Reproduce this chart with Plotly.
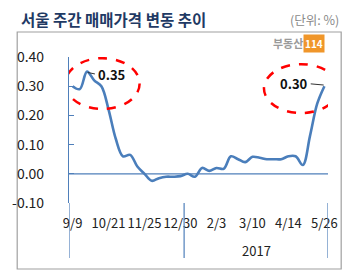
import plotly.graph_objects as go

values = [0.30, 0.29, 0.35, 0.32, 0.30, 0.22, 0.12, 0.06, 0.065, 0.025,
          0.00, -0.024, -0.015, -0.01, -0.01, -0.008, 0.00, -0.01, 0.02, 0.01,
          0.02, 0.017, 0.06, 0.05, 0.04, 0.058, 0.055, 0.05, 0.05, 0.05,
          0.06, 0.06, 0.03, 0.13, 0.24, 0.30]
tick_idx = [0, 5, 10, 15, 20, 25, 30, 35]
tick_labels = ["9/9", "10/21", "11/25", "12/30", "2/3", "3/10", "4/14", "5/26"]
y_ticks = [-0.10, 0.00, 0.10, 0.20, 0.30, 0.40]
year_label = "2017"
year_start = 16
peak_idx, last_idx = 2, 35

x = list(range(len(values)))
AX = "#4f7fba"
FONT = "Noto Sans CJK KR"

# plot area in pixels
L, R, T, B = 58, 333, 57, 203
PW, PH = R - L, B - T


def pxx(px):
    return (px - L) / PW


def pxy(py):
    return (B - py) / PH


fig = go.Figure()
fig.add_trace(go.Scatter(x=x, y=values, mode="lines",
                         line=dict(color="#4a7ebb", width=2.6, shape="spline", smoothing=1.0),
                         hoverinfo="skip", showlegend=False))

fig.update_layout(
    width=350, height=274,
    margin=dict(l=L, r=350 - R, t=T, b=274 - B),
    paper_bgcolor="white", plot_bgcolor="white",
    font=dict(family=FONT, size=13, color="#222"),
    xaxis=dict(range=[-0.5, len(values) - 0.5], showgrid=False, zeroline=False,
               showline=False, tickvals=tick_idx, ticktext=tick_labels, ticks="",
               ticklabelstandoff=11, tickfont=dict(size=13, color="#222")),
    yaxis=dict(range=[-0.1, 0.4], showgrid=False, zeroline=False, showline=True,
               linecolor=AX, linewidth=1.2, ticks="inside", ticklen=5, tickcolor=AX,
               tickvals=y_ticks, ticktext=[f"{v:.2f}" for v in y_ticks],
               tickfont=dict(size=14, color="#222"), ticklabelstandoff=21),
)

shapes = []
shapes.append(dict(type="rect", xref="paper", yref="paper",
                   x0=pxx(3), x1=pxx(347), y0=pxy(269), y1=pxy(32),
                   line=dict(color="#a0a0a0", width=1.2), layer="below"))
shapes.append(dict(type="line", xref="x", yref="y", x0=-0.5, x1=len(values) - 0.5,
                   y0=0, y1=0, line=dict(color=AX, width=1.2)))
for xv in [-0.5, year_start - 0.5, len(values) - 0.5]:
    shapes.append(dict(type="line", xref="x", yref="paper", x0=xv, x1=xv,
                       y0=pxy(258), y1=0, line=dict(color=AX, width=1.2)))


def px2x(px):
    return (px - L) / (PW / len(values)) - 0.5


def px2y(py):
    return (174 - py) / 293.0


shapes.append(dict(type="circle", xref="x", yref="y", x0=px2x(54), x1=px2x(133),
                   y0=px2y(109), y1=px2y(58), line=dict(color="#ff0000", width=2.5, dash="dash")))
shapes.append(dict(type="circle", xref="x", yref="y", x0=px2x(265), x1=px2x(344),
                   y0=px2y(113), y1=px2y(64), line=dict(color="#ff0000", width=2.5, dash="dash")))
shapes.append(dict(type="line", xref="x", yref="y", x0=peak_idx + 0.1, x1=peak_idx + 1.1,
                   y0=values[peak_idx] - 0.003, y1=values[peak_idx] - 0.008,
                   line=dict(color="#333", width=1)))
shapes.append(dict(type="line", xref="x", yref="y", x0=last_idx - 1.9, x1=last_idx - 0.1,
                   y0=values[last_idx] + 0.008, y1=values[last_idx] + 0.004,
                   line=dict(color="#333", width=1)))
fig.update_layout(shapes=shapes)

ann = []
ann.append(dict(x=peak_idx + 1.2, y=values[peak_idx] - 0.01, xref="x", yref="y",
                text=f"<b>{values[peak_idx]:.2f}</b>", showarrow=False, xanchor="left",
                font=dict(size=13, color="#111")))
ann.append(dict(x=last_idx - 2.0, y=values[last_idx] + 0.01, xref="x", yref="y",
                text=f"<b>{values[last_idx]:.2f}</b>", showarrow=False, xanchor="right",
                font=dict(size=13, color="#111")))
ann.append(dict(x=(year_start - 0.5 + len(values) - 0.5) / 2, y=pxy(250),
                xref="x", yref="paper", text=year_label, showarrow=False,
                font=dict(size=13, color="#222"), yanchor="middle"))
ann.append(dict(x=pxx(5), y=pxy(19), xref="paper", yref="paper", xanchor="left",
                yanchor="middle", text="<b>서울 주간 매매가격 변동 추이</b>", showarrow=False,
                font=dict(size=15.5, color="#1f3a64", family=FONT)))
ann.append(dict(x=pxx(347), y=pxy(19), xref="paper", yref="paper", xanchor="right",
                yanchor="middle", text="(단위: %)", showarrow=False,
                font=dict(size=12.5, color="#8a8a8a", family=FONT)))
ann.append(dict(x=pxx(309), y=pxy(43), xref="paper", yref="paper", xanchor="right",
                yanchor="middle", text="<b>부동산</b>", showarrow=False,
                font=dict(size=11, color="#9a9a9a", family=FONT)))
ann.append(dict(x=pxx(318.5), y=pxy(43), xref="paper", yref="paper", xanchor="center",
                yanchor="middle", text="<b>114</b>", showarrow=False, bgcolor="#f0962a",
                borderpad=1, font=dict(size=10, color="white", family=FONT)))
fig.update_layout(annotations=ann)

fig.write_html("out.html")
